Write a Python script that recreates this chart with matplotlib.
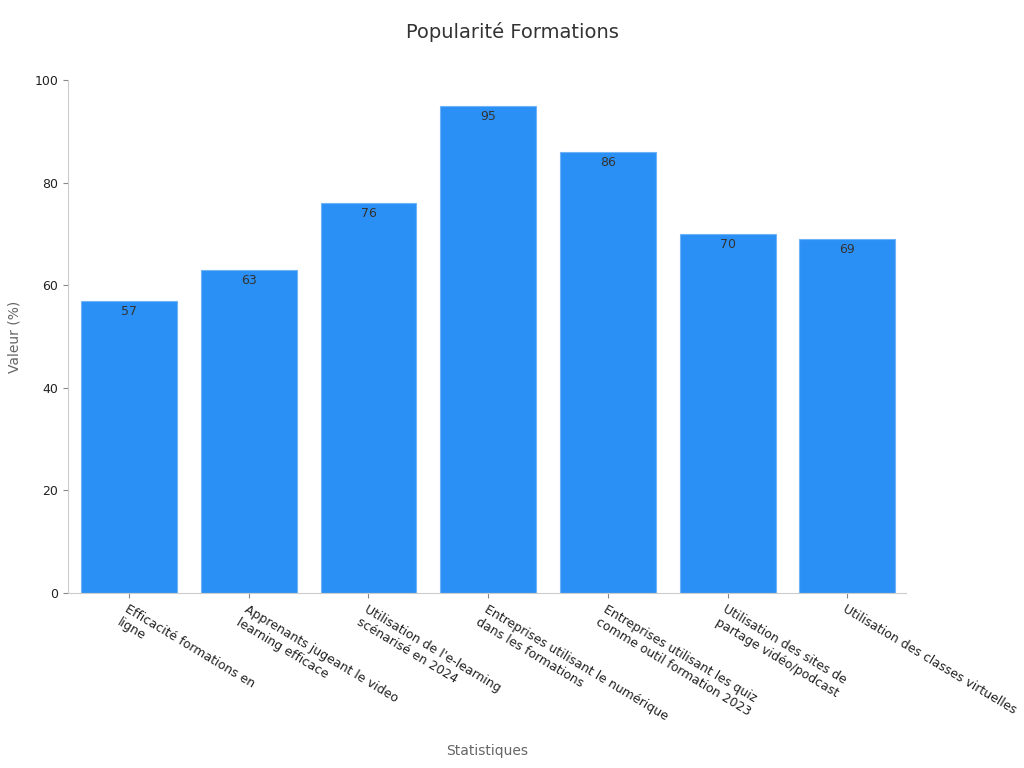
import matplotlib
matplotlib.use("Agg")
import matplotlib.pyplot as plt

categories = ["Efficacité formations en\nligne", "Apprenants jugeant le video\nlearning efficace",
              "Utilisation de l'e-learning\nscénarisé en 2024", "Entreprises utilisant le numérique\ndans les formations",
              "Entreprises utilisant les quiz\ncomme outil formation 2023", "Utilisation des sites de\npartage vidéo/podcast",
              "Utilisation des classes virtuelles"]
values = [57, 63, 76, 95, 86, 70, 69]

fig = plt.figure(figsize=(10.24, 7.68), dpi=100)
ax = fig.add_axes([68/1024, 1-593/768, (906-68)/1024, (593-80)/768])
x = range(len(values))
ax.bar(x, values, width=0.8, color="#2b90f5", edgecolor="#6fb3f7", linewidth=0.8)
for xi, v in zip(x, values):
    ax.text(xi, v - 0.8, str(v), ha="center", va="top", fontsize=9, color="#333333")
ax.set_xlim(-0.51, 6.49)
ax.set_ylim(0, 100)
ax.set_yticks([0, 20, 40, 60, 80, 100])
ax.set_xticks(list(x))
ax.set_xticklabels(categories, rotation=-31, ha="left", va="top", rotation_mode="anchor", fontsize=9, color="#222222")
ax.tick_params(axis="y", labelsize=9, colors="#222222")
ax.tick_params(axis="both", color="#888888")
for s in ["top", "right"]:
    ax.spines[s].set_visible(False)
ax.spines["left"].set_color("#cccccc")
ax.spines["bottom"].set_color("#cccccc")
ax.set_ylabel("Valeur (%)", fontsize=10, color="#666666")
ax.yaxis.set_label_coords(-0.056, 0.5)
ax.set_xlabel("Statistiques", fontsize=10, color="#666666")
ax.xaxis.set_label_coords(0.5, -0.295)
fig.suptitle("Popularité Formations", fontsize=14, color="#333333", y=0.972)
fig.savefig("out.png")
